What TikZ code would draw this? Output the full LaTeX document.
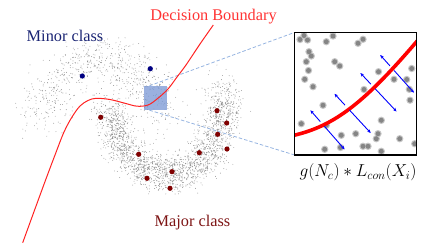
\documentclass[tikz,border=0pt]{standalone}
\usepackage{fontspec}
\setmainfont{Liberation Serif}
\newfontfamily\labelfont{Liberation Serif}
\usetikzlibrary{arrows.meta,calc}
\definecolor{dbred}{RGB}{255,51,51}
\definecolor{curvered}{RGB}{255,35,35}
\definecolor{navytext}{RGB}{25,35,115}
\definecolor{maroontext}{RGB}{125,20,20}
\definecolor{navydot}{RGB}{0,0,130}
\definecolor{maroondot}{RGB}{128,0,0}
\definecolor{sqblue}{RGB}{120,150,212}
\definecolor{dashblue}{RGB}{150,180,225}
\definecolor{arrowblue}{RGB}{0,0,255}
\definecolor{ptgray}{RGB}{150,150,150}
\begin{document}
\begin{tikzpicture}[x=1pt,y=-1pt,
  lbl/.style={inner sep=0pt, anchor=base, font=\labelfont\fontsize{16.3}{18}\selectfont},
  majordot/.style={fill=maroondot},
  minordot/.style={fill=navydot},
  zoomline/.style={dashblue, dash pattern=on 3.5pt off 2pt, line width=0.8pt},
  pushar/.style={arrowblue, line width=0.9pt, -{Stealth[length=3.6pt,width=3.2pt]}},
  halo/.style={fill=black!22},
  core/.style={fill=black!48}]
\useasboundingbox (0,0) rectangle (443,250);
\pgfmathsetseed{4242}
% upper (minor) moon, sparse
\fill[ptgray] foreach \i [evaluate=\i as \ang using {185+170*rnd},
   evaluate=\i as \nx using {13*(rand+rand+rand)},
   evaluate=\i as \ny using {12*(rand+rand+rand)}] in {1,...,700}
   {({100+60*cos(\ang)+\nx},{123+62*sin(\ang)+\ny}) circle[radius=0.45pt]};
% lower (major) moon, dense
\fill[ptgray] foreach \i [evaluate=\i as \ang using {-15+195*rnd},
   evaluate=\i as \nx using {9.5*(rand+rand+rand)},
   evaluate=\i as \ny using {9.5*(rand+rand+rand)}] in {1,...,2100}
   {({168+56*cos(\ang)+\nx},{105+69*sin(\ang)+\ny}) circle[radius=0.45pt]};
% highlighted samples
\foreach \p [count=\k] in {(100.7,117.3),(138.7,154.3),(147,178.3),(172,171.7),(170,188.3),(199.3,152.7),(217,110.7),(226.7,123),(217.7,134.3),(227,149)}
  \fill[majordot] \p circle[radius=2.6pt] coordinate (maj\k);
\foreach \p [count=\k] in {(82.3,76),(150.3,68.7)}
  \fill[minordot] \p circle[radius=2.6pt] coordinate (min\k);
% zoom square
\node[fill=sqblue, fill opacity=0.75, minimum width=23pt, minimum height=24pt, inner sep=0pt] (sq) at (155.3,98) {};
% inset placeholder
\node[minimum width=121.8pt, minimum height=122pt, inner sep=0pt] (inset) at (355.4,93.7) {};
\coordinate (sqtop) at ($(sq.north west)!0.25!(sq.north east)$);
\coordinate (sqbot) at ($(sq.south west)!0.25!(sq.south east)$);
\draw[zoomline] (sqtop) -- (inset.north west);
\draw[zoomline] (sqbot) -- (inset.south west);
% decision boundary
\draw[curvered, line width=1pt] plot[smooth, tension=0.55] coordinates {(22.7,242.7) (43,187) (55,155) (64,132) (72,117) (80,106) (88,100.5) (96,98.3) (110,99.5) (124,103) (137,106.2) (148,105) (157,99) (168,89) (177,77) (186,65) (200,44) (213.3,25)};
% labels
\node[lbl, text=dbred] (db) at (213.5,20.3) {Decision Boundary};
\node[lbl, text=navytext] (minor) at (65,41.7) {Minor class};
\node[lbl, text=maroontext] (major) at (192.5,226.7) {Major class};
\node[inner sep=0pt, anchor=base, font=\fontsize{17}{20}\selectfont] (formula) at (358,176.5) {$g(N_c) * L_{con}(X_i)$};
% inset content
\begin{scope}
\clip (inset.north west) rectangle (inset.south east);
\fill[white] (inset.north west) rectangle (inset.south east);
\def\insetdots{(300,39.5),(307.5,40),(304,35.5),(326.3,41.7),(333,36),(358,43.3),(363,39.3),(309,51.7),(311.3,56),(306.3,61.7),(308.5,70.5),(334.7,61.7),(339.7,66),(304.7,79.3),(313,86.7),(378.5,71.7),(394,79.3),(406.7,79.5),(411.7,68.5),(409.3,89.3),(410,100.2),(364,89.5),(323,105.3),(301.3,123.7),(326.3,125.3),(341.3,135.3),(355.7,133.7),(381.3,120.3),(378,133.7),(376.3,138.7),(399.7,138.7),(324.7,149.3),(340.5,147.5),(363,146.3),(368,146.3),(381.3,151.3),(414.7,143.7)}
\foreach \p in \insetdots \fill[halo] \p circle[radius=3.7pt];
\foreach \p [count=\k] in \insetdots \fill[core] \p circle[radius=2.5pt] coordinate (d\k);
\draw[red, line width=3.6pt] (293,135.5) .. controls (335,126) and (365,102) .. (418,40);
\end{scope}
% push arrows
\foreach \ux/\uy/\lx/\ly [count=\k] in {310.4/110.3/344.6/149.4, 334.5/93.8/370.7/133, 360.4/73/396.5/111.5, 380.2/55/414/92.7}{
  \coordinate (up\k) at (\ux,\uy);
  \coordinate (lo\k) at (\lx,\ly);
  \draw[pushar] ($(up\k)!0.29!(lo\k)$) -- (up\k);
  \draw[pushar] ($(up\k)!0.41!(lo\k)$) -- (lo\k);
}
\draw[black, line width=1.5pt] (inset.north west) rectangle (inset.south east);
\end{tikzpicture}
\end{document}
